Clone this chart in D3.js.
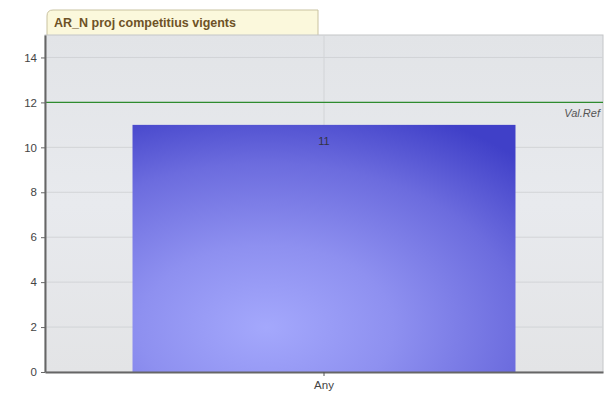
<!DOCTYPE html>
<html>
<head>
<meta charset="utf-8">
<script src="https://cdn.jsdelivr.net/npm/d3@7"></script>
<style>
  body { margin: 0; background: #fff; }
  svg { display: block; font-family: "Liberation Sans", Arial, sans-serif; }
</style>
</head>
<body>
<div id="chart"></div>
<script>
// data
var categories = ["Any"];
var values = [11];
var refValue = 12;
var refLabel = "Val.Ref";
var yTicks = [0, 2, 4, 6, 8, 10, 12, 14];
var title = "AR_N proj competitius vigents";

var W = 604, H = 401;
var margin = { top: 35, right: 1, bottom: 29, left: 45 };
var width = W - margin.left - margin.right,
    height = H - margin.top - margin.bottom;

var svg = d3.select("#chart").append("svg")
    .attr("width", W).attr("height", H);

var defs = svg.append("defs");
var bg = defs.append("linearGradient").attr("id", "bg")
    .attr("x1", 0).attr("y1", 0).attr("x2", 0).attr("y2", 1);
bg.append("stop").attr("offset", "0%").attr("stop-color", "#e2e4e7");
bg.append("stop").attr("offset", "50%").attr("stop-color", "#e8eaee");
bg.append("stop").attr("offset", "100%").attr("stop-color", "#e3e4e6");

var barGrad = defs.append("radialGradient").attr("id", "barGrad")
    .attr("cx", "35%").attr("cy", "82%").attr("r", "95%")
    .attr("fx", "35%").attr("fy", "82%");
barGrad.append("stop").attr("offset", "0%").attr("stop-color", "#a4a8fc");
barGrad.append("stop").attr("offset", "35%").attr("stop-color", "#8e90f0");
barGrad.append("stop").attr("offset", "70%").attr("stop-color", "#6c6cde");
barGrad.append("stop").attr("offset", "100%").attr("stop-color", "#4040c8");

// title tab
var tab = svg.append("g").attr("transform", "translate(47,10)");
tab.append("path")
    .attr("d", "M0,25 L0,6 Q0,0 6,0 L271,0 L271,25")
    .attr("fill", "#fbf8dc").attr("stroke", "#c9c2a0").attr("stroke-width", 1);
tab.append("text")
    .attr("x", 7).attr("y", 17)
    .attr("font-size", 12.5).attr("font-weight", "bold")
    .attr("fill", "#6e5226")
    .text(title);

var g = svg.append("g").attr("transform", "translate(" + margin.left + "," + margin.top + ")");

var x = d3.scaleBand().domain(categories).range([0, width]).padding(0.186);
var y = d3.scaleLinear().domain([0, 15]).range([height, 0]);

g.append("rect").attr("width", width).attr("height", height)
    .attr("fill", "url(#bg)").attr("stroke", "#c4c6c8");

// grid
g.selectAll(".grid").data(yTicks.filter(d => d > 0)).enter().append("line")
    .attr("x1", 0).attr("x2", width)
    .attr("y1", d => y(d)).attr("y2", d => y(d))
    .attr("stroke", "#d2d4d7").attr("stroke-width", 1);
g.selectAll(".vgrid").data(categories).enter().append("line")
    .attr("x1", d => x(d) + x.bandwidth() / 2).attr("x2", d => x(d) + x.bandwidth() / 2)
    .attr("y1", 0).attr("y2", height)
    .attr("stroke", "#d2d4d7");

// bars
g.selectAll(".bar").data(values).enter().append("rect")
    .attr("x", (d, i) => x(categories[i]))
    .attr("y", d => y(d))
    .attr("width", x.bandwidth())
    .attr("height", d => height - y(d))
    .attr("fill", "url(#barGrad)");

g.selectAll(".lbl").data(values).enter().append("text")
    .attr("x", (d, i) => x(categories[i]) + x.bandwidth() / 2)
    .attr("y", d => y(d) + 20)
    .attr("text-anchor", "middle")
    .attr("font-size", 11).attr("fill", "#333344")
    .text(d => d);

// reference line
g.append("line")
    .attr("x1", 0).attr("x2", width)
    .attr("y1", y(refValue)).attr("y2", y(refValue))
    .attr("stroke", "#2e8b2e").attr("stroke-width", 1.3);
g.append("text")
    .attr("x", width - 3).attr("y", y(refValue) + 15)
    .attr("text-anchor", "end")
    .attr("font-size", 11).attr("font-style", "italic")
    .attr("fill", "#555")
    .text(refLabel);

// axes
var yAxis = g.append("g")
    .call(d3.axisLeft(y).tickValues(yTicks).tickSize(4).tickSizeOuter(0).tickPadding(4));
yAxis.select(".domain").attr("stroke", "#666").attr("stroke-width", 2);
yAxis.selectAll("line").attr("stroke", "#666");
yAxis.selectAll("text").attr("font-size", 11.5).attr("fill", "#444");

var xAxis = g.append("g").attr("transform", "translate(0," + height + ")")
    .call(d3.axisBottom(x).tickSize(4).tickSizeOuter(0).tickPadding(5));
xAxis.select(".domain").attr("stroke", "#666").attr("stroke-width", 2);
xAxis.selectAll("line").attr("stroke", "#555");
xAxis.selectAll("text").attr("font-size", 11.5).attr("fill", "#444");
</script>
</body>
</html>
